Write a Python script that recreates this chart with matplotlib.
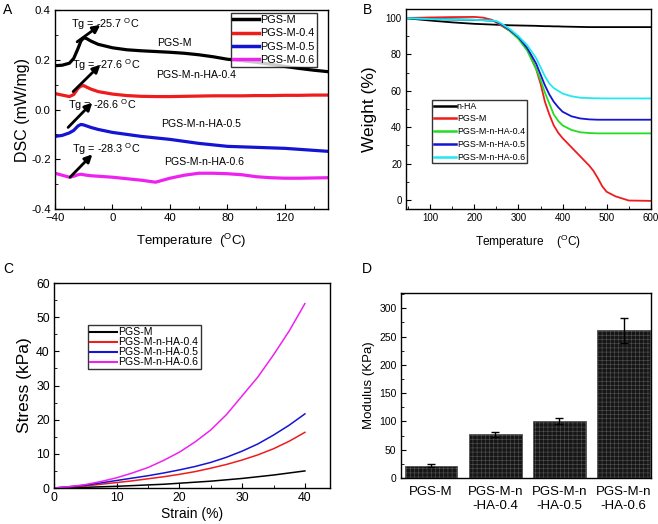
import matplotlib
matplotlib.use("Agg")
import matplotlib.pyplot as plt
from matplotlib.ticker import MultipleLocator
import numpy as np

plt.rcParams["font.family"] = ["Liberation Sans", "DejaVu Sans"]
plt.rcParams["mathtext.fontset"] = "custom"
plt.rcParams["mathtext.rm"] = "Liberation Sans"
plt.rcParams["mathtext.it"] = "Liberation Sans:italic"
plt.rcParams["hatch.linewidth"] = 0.4

DEG = r"$^{\mathrm{O}}$C"

# ---- Panel A: DSC ----
dsc_T = [-40, -35, -30, -27, -24, -22, -20, -18, -15, -10, 0, 10, 20, 30, 40, 50, 60, 70, 80, 90,
         100, 110, 120, 130, 140, 150]
dsc_pgsm = [0.176, 0.178, 0.186, 0.205, 0.245, 0.275, 0.288, 0.285, 0.275, 0.262, 0.248, 0.240,
            0.236, 0.233, 0.230, 0.226, 0.220, 0.212, 0.202, 0.196, 0.190, 0.182, 0.173, 0.165,
            0.158, 0.152]
dsc_04 = [0.064, 0.058, 0.052, 0.060, 0.085, 0.094, 0.096, 0.090, 0.082, 0.072, 0.062, 0.056,
          0.053, 0.052, 0.052, 0.053, 0.054, 0.055, 0.055, 0.055, 0.056, 0.056, 0.057, 0.057,
          0.058, 0.058]
dsc_05 = [-0.108, -0.104, -0.094, -0.084, -0.066, -0.060, -0.062, -0.066, -0.072, -0.080, -0.092,
          -0.100, -0.108, -0.114, -0.120, -0.128, -0.136, -0.142, -0.148, -0.150, -0.152, -0.154,
          -0.156, -0.160, -0.164, -0.168]
dsc_06 = [-0.256, -0.264, -0.272, -0.268, -0.262, -0.260, -0.262, -0.264, -0.266, -0.268, -0.272,
          -0.278, -0.284, -0.292, -0.276, -0.264, -0.256, -0.256, -0.258, -0.262, -0.270, -0.274,
          -0.276, -0.276, -0.275, -0.274]
dsc_names = ["PGS-M", "PGS-M-0.4", "PGS-M-0.5", "PGS-M-0.6"]
dsc_curve_labels = ["PGS-M", "PGS-M-n-HA-0.4", "PGS-M-n-HA-0.5", "PGS-M-n-HA-0.6"]
tg_values = ["-25.7", "-27.6", "-26.6", "-28.3"]

# ---- Panel B: TGA ----
tga_T = [40, 100, 150, 200, 220, 240, 250, 260, 280, 300, 320, 340, 350, 360, 370, 380, 390, 400,
         420, 440, 460, 470, 480, 490, 500, 520, 550, 600]
tga_nha = [100, 98.6, 97.6, 96.8, 96.6, 96.4, 96.3, 96.2, 96.0, 95.9, 95.8, 95.7, 95.6, 95.5, 95.5,
           95.4, 95.4, 95.3, 95.2, 95.1, 95.0, 95.0, 95.0, 95.0, 95.0, 95.0, 95.0, 95.0]
tga_pgsm = [100, 100.3, 100.5, 100.6, 100.2, 99.0, 97.5, 96.0, 93.0, 89.0, 83.0, 72.0, 64.0, 54.0,
            47.0, 41.0, 37.0, 34.0, 29.0, 24.0, 19.0, 16.0, 12.0, 7.5, 4.5, 2.0, -0.3, -0.5]
tga_04 = [100, 99.4, 99.2, 99.0, 98.8, 98.6, 98.0, 96.5, 93.0, 88.5, 82.0, 72.0, 66.0, 59.0, 53.0,
          47.0, 43.5, 41.0, 38.5, 37.2, 36.8, 36.7, 36.6, 36.6, 36.6, 36.6, 36.6, 36.6]
tga_05 = [100, 99.4, 99.2, 99.0, 98.8, 98.6, 98.0, 96.7, 93.5, 89.5, 83.5, 75.0, 69.0, 63.0, 58.0,
          54.0, 51.0, 48.5, 46.0, 44.8, 44.3, 44.2, 44.1, 44.1, 44.1, 44.1, 44.1, 44.1]
tga_06 = [100, 99.4, 99.2, 99.0, 98.8, 98.6, 98.3, 97.2, 94.0, 90.0, 85.0, 78.0, 73.0, 68.0, 64.0,
          61.5, 60.0, 58.5, 57.0, 56.2, 56.0, 55.9, 55.9, 55.8, 55.8, 55.8, 55.8, 55.8]
tga_names = ["n-HA", "PGS-M", "PGS-M-n-HA-0.4", "PGS-M-n-HA-0.5", "PGS-M-n-HA-0.6"]

# ---- Panel C: stress-strain ----
strain = [0, 2.5, 5, 7.5, 10, 12.5, 15, 17.5, 20, 22.5, 25, 27.5, 30, 32.5, 35, 37.5, 40]
stress_pgsm = [0, 0.1, 0.2, 0.35, 0.5, 0.7, 0.9, 1.1, 1.4, 1.7, 2.0, 2.4, 2.8, 3.3, 3.8, 4.4, 5.0]
stress_04 = [0, 0.3, 0.6, 1.1, 1.6, 2.1, 2.7, 3.3, 4.0, 4.8, 5.8, 6.9, 8.2, 9.7, 11.5, 13.7, 16.3]
stress_05 = [0, 0.4, 0.8, 1.5, 2.2, 2.9, 3.6, 4.4, 5.3, 6.3, 7.5, 9.0, 10.8, 12.9, 15.5, 18.4, 21.7]
stress_06 = [0, 0.4, 1.0, 1.9, 3.0, 4.4, 6.0, 8.1, 10.5, 13.5, 17.0, 21.5, 27.0, 32.5, 39.0, 46.0, 54.0]
stress_names = ["PGS-M", "PGS-M-n-HA-0.4", "PGS-M-n-HA-0.5", "PGS-M-n-HA-0.6"]

# ---- Panel D: modulus ----
mod_labels = ["PGS-M", "PGS-M-n\n-HA-0.4", "PGS-M-n\n-HA-0.5", "PGS-M-n\n-HA-0.6"]
mod_values = [22, 77, 101, 261]
mod_errors = [2, 5, 5, 22]

colors4 = ["black", "#ee1c1c", "#1414d2", "#ee22ee"]
tga_colors = ["black", "#ee1c1c", "#22dd22", "#1414d2", "#22e8f0"]

fig = plt.figure(figsize=(6.58, 5.24), dpi=100)


def style_axes(ax, fs):
    ax.tick_params(which="both", direction="in", top=False, right=False, labelsize=fs, pad=3)
    ax.tick_params(which="major", length=3.5, width=0.8)
    ax.tick_params(which="minor", length=2, width=0.6)
    for s in ax.spines.values():
        s.set_linewidth(1.0)


def box_legend(ax, anchor, loc, size, hl, ls, lw):
    leg = ax.legend(loc=loc, bbox_to_anchor=anchor, borderaxespad=0, fontsize=size,
                    frameon=True, fancybox=False, edgecolor="black", handlelength=hl,
                    handletextpad=0.1, labelspacing=ls, borderpad=0.2)
    leg.get_frame().set_linewidth(1.0)
    for ln in leg.get_lines():
        ln.set_linewidth(lw)
    return leg


# A
axA = fig.add_axes([0.0836, 0.601, 0.4149, 0.380])
for y, c, n in zip([dsc_pgsm, dsc_04, dsc_05, dsc_06], colors4, dsc_names):
    axA.plot(dsc_T, y, color=c, lw=2.3, label=n)
axA.set_xlim(-40, 150)
axA.set_ylim(-0.4, 0.4)
axA.xaxis.set_major_locator(MultipleLocator(40))
axA.xaxis.set_minor_locator(MultipleLocator(20))
axA.set_yticks([-0.4, -0.2, 0.0, 0.2, 0.4], ["-0.4", "-0.2", "0.0", "0.2", "0.4"])
axA.yaxis.set_minor_locator(MultipleLocator(0.1))
style_axes(axA, 8.2)
axA.set_xlabel("Temperature  (" + DEG + ")", fontsize=9.5, labelpad=6)
axA.set_ylabel("DSC (mW/mg)", fontsize=11.5, labelpad=1)
box_legend(axA, (0.96, 0.985), "upper right", 7.8, 2.4, 0.3, 2.5)

arrowsA = [((-24.6, 0.272), (-8.4, 0.34)), ((-27.4, 0.072), (-8.4, 0.18)),
           ((-30.9, -0.072), (-14, 0.028)), ((-29.5, -0.272), (-14, -0.18))]
textposA = [(-28.8, 0.342), (-28, 0.18), (-30.9, 0.016), (-28, -0.16)]
for (s, e), tp, tg in zip(arrowsA, textposA, tg_values):
    axA.text(tp[0], tp[1], "Tg = " + tg + " " + DEG, fontsize=7.8, va="center", ha="left")
    axA.annotate("", xy=e, xytext=s,
                 arrowprops=dict(arrowstyle="-|>", color="black", lw=2.0, mutation_scale=11,
                                 shrinkA=0, shrinkB=0))
labelposA = [(42.8, 0.268), (58, 0.14), (61.8, -0.06), (63.9, -0.212)]
for (x, y), t in zip(labelposA, dsc_curve_labels):
    axA.text(x, y, t, fontsize=7.6, ha="center", va="center")

# B
axB = fig.add_axes([0.617, 0.601, 0.372, 0.382])
for y, c, n in zip([tga_nha, tga_pgsm, tga_04, tga_05, tga_06], tga_colors, tga_names):
    axB.plot(tga_T, y, color=c, lw=1.3, label=n)
axB.set_xlim(45, 600)
axB.set_ylim(-5, 105)
axB.xaxis.set_major_locator(MultipleLocator(100))
axB.xaxis.set_minor_locator(MultipleLocator(50))
axB.yaxis.set_major_locator(MultipleLocator(20))
axB.yaxis.set_minor_locator(MultipleLocator(10))
style_axes(axB, 7)
axB.set_xlabel("Temperature    (" + DEG + ")", fontsize=8.6, labelpad=7)
axB.set_ylabel("Weight (%)", fontsize=12.5, labelpad=6)
box_legend(axB, (0.106, 0.545), "upper left", 6.4, 2.5, 0.42, 1.8)

# C
axC = fig.add_axes([0.082, 0.0687, 0.4195, 0.391])
for y, c, n in zip([stress_pgsm, stress_04, stress_05, stress_06], colors4, stress_names):
    axC.plot(strain, y, color=c, lw=1.1, label=n)
axC.set_xlim(0, 44)
axC.set_ylim(0, 60)
axC.xaxis.set_major_locator(MultipleLocator(10))
axC.xaxis.set_minor_locator(MultipleLocator(5))
axC.yaxis.set_major_locator(MultipleLocator(10))
axC.yaxis.set_minor_locator(MultipleLocator(5))
style_axes(axC, 8.8)
axC.set_xlabel("Strain (%)", fontsize=10, labelpad=2)
axC.set_ylabel("Stress (kPa)", fontsize=12.5, labelpad=3)
box_legend(axC, (0.123, 0.795), "upper left", 7.6, 2.6, 0.0, 1.5)

# D
axD = fig.add_axes([0.609, 0.0878, 0.380, 0.353])
xpos = np.arange(1, len(mod_values) + 1)
axD.bar(xpos, mod_values, width=0.82, color="#161616", edgecolor="#555555", hatch="++++",
        linewidth=0.6)
axD.errorbar(xpos, mod_values, yerr=mod_errors, fmt="none", ecolor="black", elinewidth=1.0,
             capsize=3, capthick=1.0)
axD.set_xlim(0.53, 4.42)
axD.set_ylim(0, 327)
axD.set_xticks(xpos)
axD.set_xticklabels(mod_labels)
axD.yaxis.set_major_locator(MultipleLocator(50))
axD.yaxis.set_minor_locator(MultipleLocator(25))
style_axes(axD, 7.5)
axD.tick_params(axis="x", which="both", length=0, pad=6, labelsize=9.5)
axD.set_ylabel("Modulus (KPa)", fontsize=9.5, labelpad=3)

for lab, x, y in [("A", 3, 3), ("B", 363, 3), ("C", 3, 262), ("D", 362, 262)]:
    fig.text(x / 658, 1 - y / 524, lab, fontsize=10, ha="left", va="top")

fig.savefig("out.png", dpi=100)
